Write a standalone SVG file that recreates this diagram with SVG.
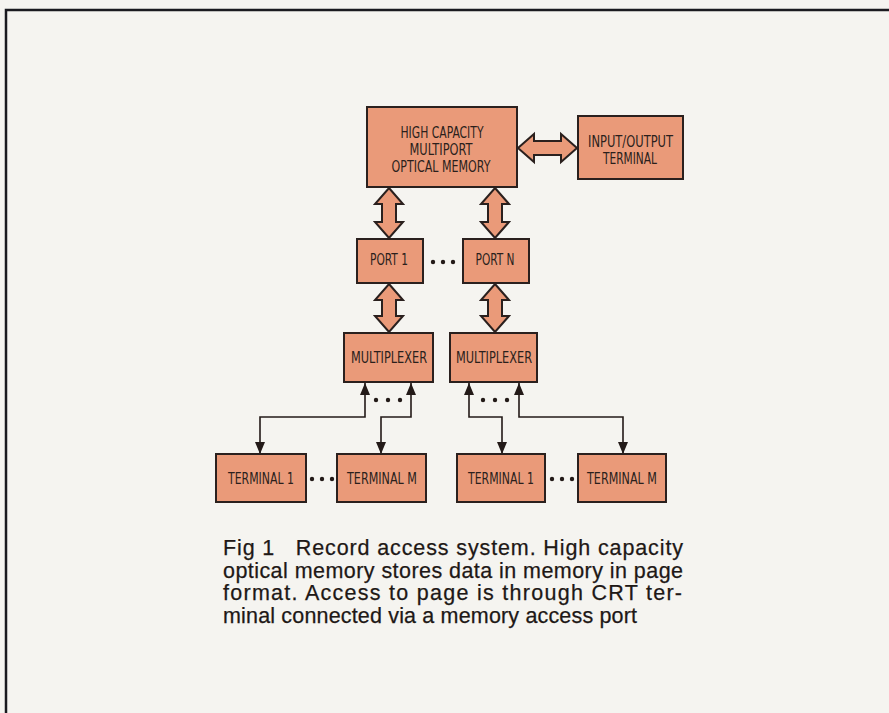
<svg xmlns="http://www.w3.org/2000/svg" width="889" height="713" viewBox="0 0 889 713">
<defs>
<style>
.box{fill:#ea9a79;stroke:#2a201e;stroke-width:2}
.dbl{fill:#ea9a79;stroke:#2a201e;stroke-width:2;stroke-linejoin:miter}
.lbl{font-family:"DejaVu Sans","Liberation Sans",sans-serif;font-stretch:condensed;font-size:15px;fill:#2b1f1c;text-anchor:middle}
.ln{fill:none;stroke:#231a18;stroke-width:1.6}
.dot{fill:#231a18}
.cap{font-family:"Liberation Sans",Arial,sans-serif;font-size:21.5px;fill:#1e1816;stroke:#1e1816;stroke-width:0.25}
</style>
<marker id="ad" viewBox="0 0 12 10" refX="12" refY="5" markerWidth="12" markerHeight="10" markerUnits="userSpaceOnUse" orient="auto-start-reverse">
<path d="M0,0 L12,5 L0,10 Z" fill="#231a18"/>
</marker>
</defs>
<rect x="0" y="0" width="889" height="713" fill="#f5f4f0"/>
<path d="M6,713 L6,10 L889,10" fill="none" stroke="#1a1a1f" stroke-width="2.5"/>

<g id="connectors">
<polygon class="dbl" points="518,148 534,134 534,141 561,141 561,134 577,148 561,162 561,155 534,155 534,162"/>
<polygon class="dbl" points="389,188 403,204 396,204 396,222 403,222 389,238 375,222 382,222 382,204 375,204"/>
<polygon class="dbl" points="495,188 509,204 502,204 502,222 509,222 495,238 481,222 488,222 488,204 481,204"/>
<polygon class="dbl" points="389,284 403,300 396,300 396,316 403,316 389,332 375,316 382,316 382,300 375,300"/>
<polygon class="dbl" points="495,284 509,300 502,300 502,316 509,316 495,332 481,316 488,316 488,300 481,300"/>
<path class="ln" d="M365,383 L365,417 L260,417 L260,454" marker-start="url(#ad)" marker-end="url(#ad)"/>
<path class="ln" d="M411,383 L411,417 L381,417 L381,454" marker-start="url(#ad)" marker-end="url(#ad)"/>
<path class="ln" d="M469,383 L469,417 L502,417 L502,454" marker-start="url(#ad)" marker-end="url(#ad)"/>
<path class="ln" d="M519,383 L519,417 L623,417 L623,454" marker-start="url(#ad)" marker-end="url(#ad)"/>
</g>

<g id="dots">
<circle class="dot" cx="433" cy="262" r="2.2"/><circle class="dot" cx="443" cy="262" r="2.2"/><circle class="dot" cx="453" cy="262" r="2.2"/>
<circle class="dot" cx="376" cy="400" r="2.2"/><circle class="dot" cx="388" cy="400" r="2.2"/><circle class="dot" cx="400" cy="400" r="2.2"/>
<circle class="dot" cx="483" cy="400" r="2.2"/><circle class="dot" cx="495" cy="400" r="2.2"/><circle class="dot" cx="507" cy="400" r="2.2"/>
<circle class="dot" cx="312" cy="479" r="2.2"/><circle class="dot" cx="322" cy="479" r="2.2"/><circle class="dot" cx="332" cy="479" r="2.2"/>
<circle class="dot" cx="552" cy="479" r="2.2"/><circle class="dot" cx="562" cy="479" r="2.2"/><circle class="dot" cx="572" cy="479" r="2.2"/>
</g>

<g id="memory">
<rect class="box" x="367" y="107" width="150" height="80"/>
<text class="lbl" x="442" y="138" textLength="83" lengthAdjust="spacingAndGlyphs">HIGH CAPACITY</text>
<text class="lbl" x="441" y="155" textLength="63" lengthAdjust="spacingAndGlyphs">MULTIPORT</text>
<text class="lbl" x="441" y="172" textLength="99" lengthAdjust="spacingAndGlyphs">OPTICAL MEMORY</text>
</g>
<g id="io">
<rect class="box" x="578" y="116" width="105" height="63"/>
<text class="lbl" x="630.5" y="147" textLength="85" lengthAdjust="spacingAndGlyphs">INPUT/OUTPUT</text>
<text class="lbl" x="630" y="164" textLength="54" lengthAdjust="spacingAndGlyphs">TERMINAL</text>
</g>
<g id="port1">
<rect class="box" x="357" y="239" width="66" height="44"/>
<text class="lbl" x="389" y="265" textLength="38" lengthAdjust="spacingAndGlyphs">PORT 1</text>
</g>
<g id="portN">
<rect class="box" x="463" y="239" width="66" height="44"/>
<text class="lbl" x="495" y="265" textLength="39" lengthAdjust="spacingAndGlyphs">PORT N</text>
</g>
<g id="mux1">
<rect class="box" x="344" y="333" width="89" height="49"/>
<text class="lbl" x="389" y="363" textLength="76" lengthAdjust="spacingAndGlyphs">MULTIPLEXER</text>
</g>
<g id="mux2">
<rect class="box" x="450" y="333" width="87" height="49"/>
<text class="lbl" x="494" y="363" textLength="76" lengthAdjust="spacingAndGlyphs">MULTIPLEXER</text>
</g>
<g id="term1a">
<rect class="box" x="216" y="454" width="90" height="48"/>
<text class="lbl" x="261" y="484" textLength="66" lengthAdjust="spacingAndGlyphs">TERMINAL 1</text>
</g>
<g id="termMa">
<rect class="box" x="337" y="454" width="89" height="48"/>
<text class="lbl" x="382" y="484" textLength="70" lengthAdjust="spacingAndGlyphs">TERMINAL M</text>
</g>
<g id="term1b">
<rect class="box" x="457" y="454" width="88" height="48"/>
<text class="lbl" x="501" y="484" textLength="66" lengthAdjust="spacingAndGlyphs">TERMINAL 1</text>
</g>
<g id="termMb">
<rect class="box" x="578" y="454" width="88" height="48"/>
<text class="lbl" x="622" y="484" textLength="70" lengthAdjust="spacingAndGlyphs">TERMINAL M</text>
</g>

<g id="caption">
<text class="cap" x="223" y="555" textLength="460" lengthAdjust="spacing" xml:space="preserve">Fig 1   Record access system. High capacity</text>
<text class="cap" x="223" y="578" textLength="460" lengthAdjust="spacing">optical memory stores data in memory in page</text>
<text class="cap" x="223" y="600" textLength="459" lengthAdjust="spacing">format. Access to page is through CRT ter-</text>
<text class="cap" x="223" y="623" textLength="414" lengthAdjust="spacing">minal connected via a memory access port</text>
</g>
</svg>
